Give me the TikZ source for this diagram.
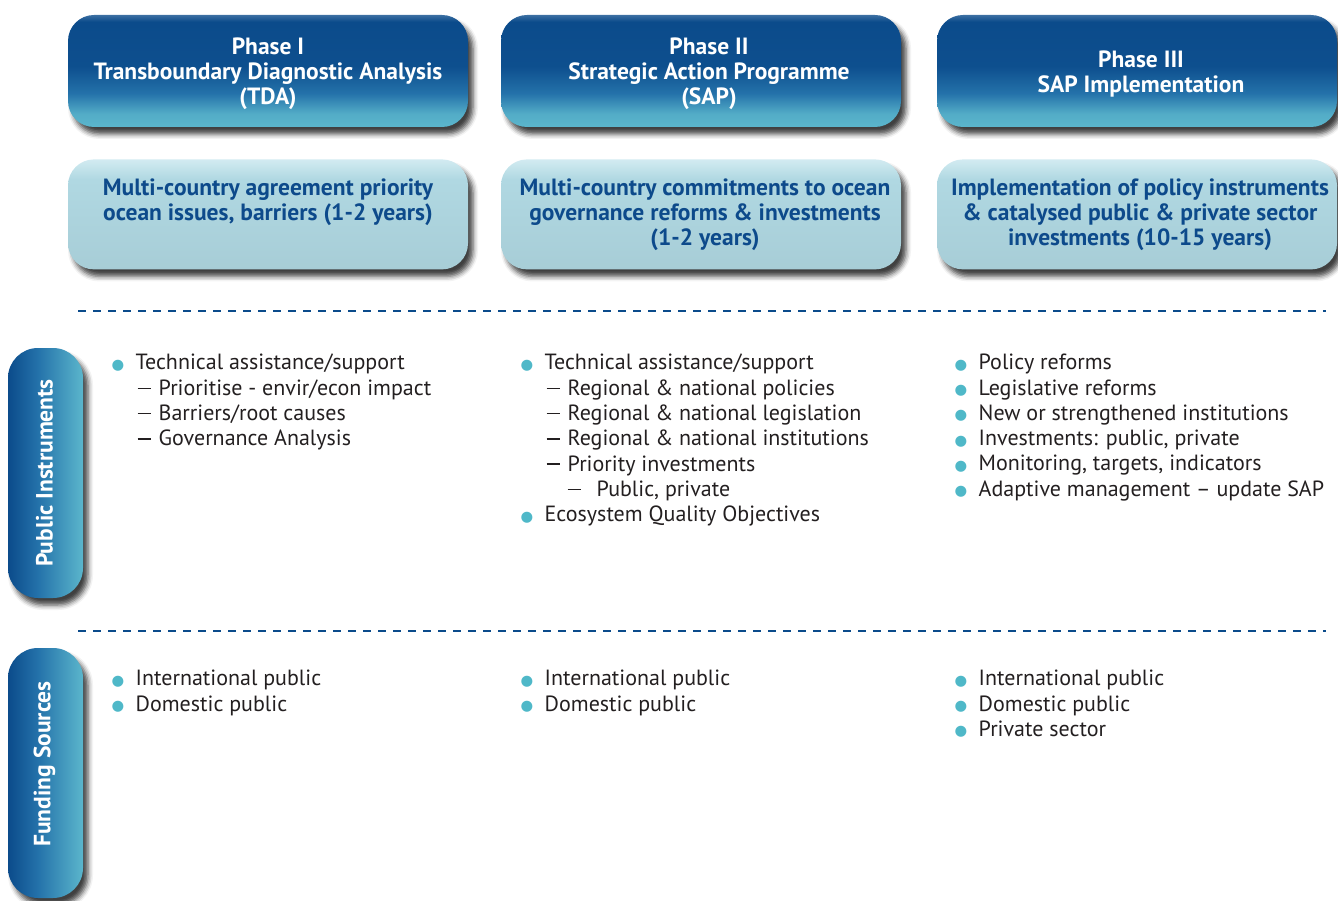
\documentclass[tikz,border=0pt]{standalone}
\usepackage{fontspec}
\setmainfont{PT Sans}
\newfontfamily\dotfont{DejaVu Sans}
\usetikzlibrary{positioning,shadows.blur}

\definecolor{navyblue}{HTML}{0B4B8B}
\definecolor{midblue}{HTML}{2472AA}
\definecolor{tealblue}{HTML}{5BB6CC}
\definecolor{paleblue}{HTML}{B0D8E2}
\definecolor{paletop}{HTML}{D2EBF1}
\definecolor{goalink}{HTML}{0D4A8B}
\definecolor{dotteal}{HTML}{4FB8C8}
\definecolor{bodyink}{HTML}{231F20}

\pgfdeclareverticalshading{phaseshade}{100bp}{color(0bp)=(tealblue); color(25bp)=(tealblue); color(31bp)=(tealblue!85!midblue); color(40bp)=(midblue); color(52bp)=(navyblue!90!midblue); color(72bp)=(navyblue); color(75bp)=(navyblue!80!white); color(100bp)=(navyblue!80!white)}
\pgfdeclareverticalshading{goalshade}{100bp}{color(0bp)=(paleblue); color(25bp)=(paleblue!95!black); color(66bp)=(paleblue); color(75bp)=(paletop); color(100bp)=(paletop)}
\pgfdeclarehorizontalshading{sideshade}{100bp}{color(0bp)=(navyblue); color(25bp)=(navyblue); color(45bp)=(midblue); color(75bp)=(tealblue); color(100bp)=(tealblue)}

\tikzset{
  boxshadow/.style={blur shadow={shadow xshift=5pt, shadow yshift=-7pt,
      shadow blur radius=5pt, shadow opacity=75}},
  phasebox/.style={boxshadow, shading=phaseshade, rounded corners=26pt,
      minimum width=400pt, minimum height=112pt, inner sep=0pt},
  phasetext/.style={align=center, text=white, inner sep=0pt,
      font=\bfseries\fontsize{23.5}{25}\selectfont},
  goalbox/.style={boxshadow, shading=goalshade, rounded corners=26pt,
      minimum width=400pt, minimum height=110pt, inner sep=0pt},
  goaltext/.style={align=center, text=goalink, inner sep=0pt,
      font=\bfseries\fontsize{23.5}{25}\selectfont},
  sidebox/.style={boxshadow, shading=sideshade, rounded corners=30pt,
      minimum width=75pt, minimum height=250pt, inner sep=0pt},
  sidetext/.style={rotate=90, text=white, inner sep=0pt,
      font=\bfseries\fontsize{23.5}{25}\selectfont},
  itemlist/.style={anchor=north west, align=left, inner sep=0pt, text=bodyink,
      font=\fontsize{22}{25.3}\selectfont},
  sepline/.style={draw=navyblue, line width=2.5pt, dash pattern=on 8pt off 7pt}
}

\newcommand\bul{\makebox[24pt][l]{\raisebox{0.5pt}{\dotfont\fontsize{14.5}{14.5}\selectfont\textcolor{dotteal}{●}}}}
\newcommand\subi{\hspace*{26pt}\makebox[21pt][l]{\rule[6pt]{13pt}{1.6pt}}}
\newcommand\subii{\hspace*{47pt}\makebox[29pt][l]{\rule[6pt]{13pt}{1.6pt}}}

\begin{document}
\begin{tikzpicture}[x=1pt,y=-1pt]
\useasboundingbox (0,0) rectangle (1338,901);

% phases
\node[phasebox] (phaseI)   at (268,71)  {};
\node[phasebox] (phaseII)  at (701,71)  {};
\node[phasebox] (phaseIII) at (1137,71) {};
\node[phasetext] (phaseItxt)   at ([yshift=-3pt]phaseI)   {Phase I\\Transboundary Diagnostic Analysis\\(TDA)};
\node[phasetext] (phaseIItxt)  at ([xshift=8pt,yshift=-3pt]phaseII)  {Phase II\\Strategic Action Programme\\(SAP)};
\node[phasetext] (phaseIIItxt) at ([xshift=4pt,yshift=-3pt]phaseIII) {Phase III\\SAP Implementation};

% outcomes
\node[goalbox, below=32pt of phaseI]   (goalI)   {};
\node[goalbox, below=32pt of phaseII]  (goalII)  {};
\node[goalbox, below=32pt of phaseIII] (goalIII) {};
\node[goaltext, below=19pt of goalI.north]   (goalItxt)   {Multi-country agreement priority\\ocean issues, barriers (1-2 years)};
\node[goaltext, below=19pt of goalII.north, xshift=4pt]  (goalIItxt)  {Multi-country commitments to ocean\\governance reforms \& investments\\(1-2 years)};
\node[goaltext, below=19pt of goalIII.north, xshift=3pt] (goalIIItxt) {Implementation of policy instruments\\\& catalysed public \& private sector\\investments (10-15 years)};

% separators
\coordinate (sepAw) at (78,311);  \coordinate (sepAe) at (1326,311);
\coordinate (sepBw) at (78,631);  \coordinate (sepBe) at (1326,631);
\draw[sepline] (sepAw) -- (sepAe);
\draw[sepline] (sepBw) -- (sepBe);

% row labels
\node[sidebox] (pubbox)  at (45.5,473) {};
\node[sidebox] (fundbox) at (45.5,773) {};
\node[sidetext] (pubtxt)  at ([xshift=-1pt]pubbox)  {Public Instruments};
\node[sidetext] (fundtxt) at ([xshift=-1pt,yshift=9pt]fundbox) {Funding Sources};

% public instruments
\node[itemlist] (pubI) at (111.5,354) {\bul Technical assistance/support\\
  \subi Prioritise - envir/econ impact\\
  \subi Barriers/root causes\\
  \subi Governance Analysis};
\node[itemlist] (pubII) at (520.5,354) {\bul Technical assistance/support\\
  \subi Regional \& national policies\\
  \subi Regional \& national legislation\\
  \subi Regional \& national institutions\\
  \subi Priority investments\\
  \subii Public, private\\
  \bul Ecosystem Quality Objectives};
\node[itemlist] (pubIII) at (954.5,354) {\bul Policy reforms\\
  \bul Legislative reforms\\
  \bul New or strengthened institutions\\
  \bul Investments: public, private\\
  \bul Monitoring, targets, indicators\\
  \bul Adaptive management -- update SAP};

% funding sources
\node[itemlist] (fundI) at (111.5,670) {\bul International public\\
  \bul Domestic public};
\node[itemlist] (fundII) at (520.5,670) {\bul International public\\
  \bul Domestic public};
\node[itemlist] (fundIII) at (954.5,670) {\bul International public\\
  \bul Domestic public\\
  \bul Private sector};
\end{tikzpicture}
\end{document}
